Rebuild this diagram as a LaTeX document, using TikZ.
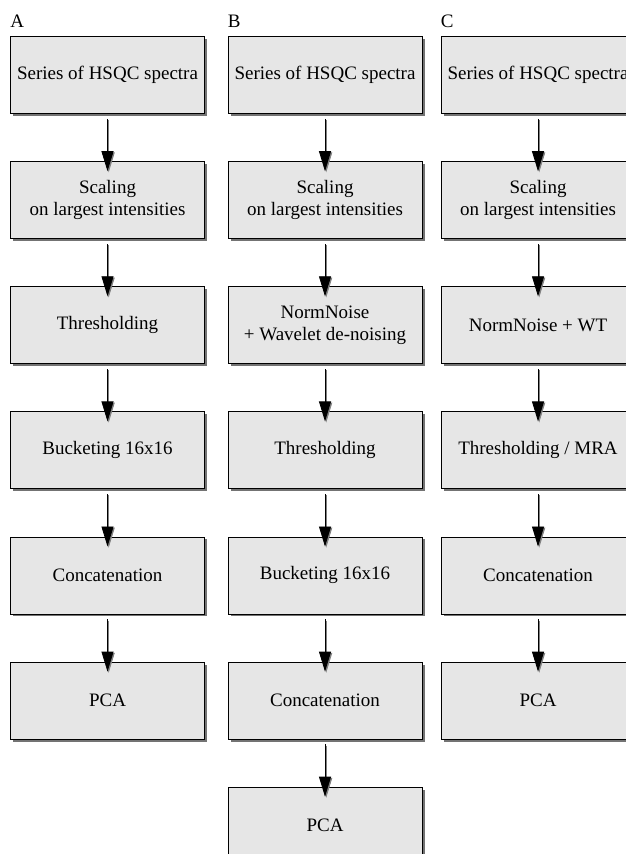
\documentclass[tikz,border=0pt]{standalone}
\usepackage{fontspec}
\setmainfont{Liberation Serif}
\usetikzlibrary{positioning,shadows,arrows.meta}
\definecolor{boxgray}{RGB}{230,230,230}

\begin{document}
\begin{tikzpicture}[x=1pt, y=1pt, node distance=47.3pt,
  font=\fontsize{19}{22}\selectfont,
  block/.style={rectangle, draw, line width=0.8pt, fill=boxgray, minimum width=194pt, minimum height=77pt, align=center, inner sep=2pt, drop shadow={shadow xshift=2.5pt, shadow yshift=-2.5pt, fill=black, opacity=0.55}},
  colname/.style={inner sep=0pt, anchor=south west},
  flow/.style={line width=0.8pt, -{Triangle[width=12pt, length=20pt]}, shorten <=5pt, shorten >=-10pt,
    preaction={draw=gray, line width=0.8pt, -{Triangle[width=12pt, length=20pt]}, shorten <=5pt, shorten >=-10pt, transform canvas={xshift=1.2pt, yshift=-1.2pt}}}]

  \useasboundingbox (0,0) rectangle (626,-854);

  % column A
  \node[block] (a1) at (107.5,-75) {Series of HSQC spectra};
  \node[block, below=of a1] (a2) {Scaling\\on largest intensities};
  \node[block, below=of a2] (a3) {Thresholding};
  \node[block, below=of a3] (a4) {Bucketing 16x16};
  \node[block, below=of a4] (a5) {Concatenation};
  \node[block, below=of a5] (a6) {PCA};
  \node[colname, above right=8pt and 0pt of a1.north west] (labA) {A};

  % column B
  \node[block] (b1) at (325,-75) {Series of HSQC spectra};
  \node[block, below=of b1] (b2) {Scaling\\on largest intensities};
  \node[block, below=of b2] (b3) {NormNoise\\+ Wavelet de-noising};
  \node[block, below=of b3] (b4) {Thresholding};
  \node[block, below=of b4] (b5) {Bucketing 16x16};
  \node[block, below=of b5] (b6) {Concatenation};
  \node[block, below=of b6] (b7) {PCA};
  \node[colname, above right=8pt and 0pt of b1.north west] (labB) {B};

  % column C
  \node[block] (c1) at (538,-75) {Series of HSQC spectra};
  \node[block, below=of c1] (c2) {Scaling\\on largest intensities};
  \node[block, below=of c2] (c3) {NormNoise + WT};
  \node[block, below=of c3] (c4) {Thresholding / MRA};
  \node[block, below=of c4] (c5) {Concatenation};
  \node[block, below=of c5] (c6) {PCA};
  \node[colname, above right=8pt and 0pt of c1.north west] (labC) {C};

  \foreach \col/\last in {a/6, b/7, c/6} {
    \foreach \i [evaluate=\i as \j using int(\i+1)] in {1,...,\numexpr\last-1\relax} {
      \draw[flow] (\col\i) -- (\col\j);
    }
  }
\end{tikzpicture}
\end{document}
